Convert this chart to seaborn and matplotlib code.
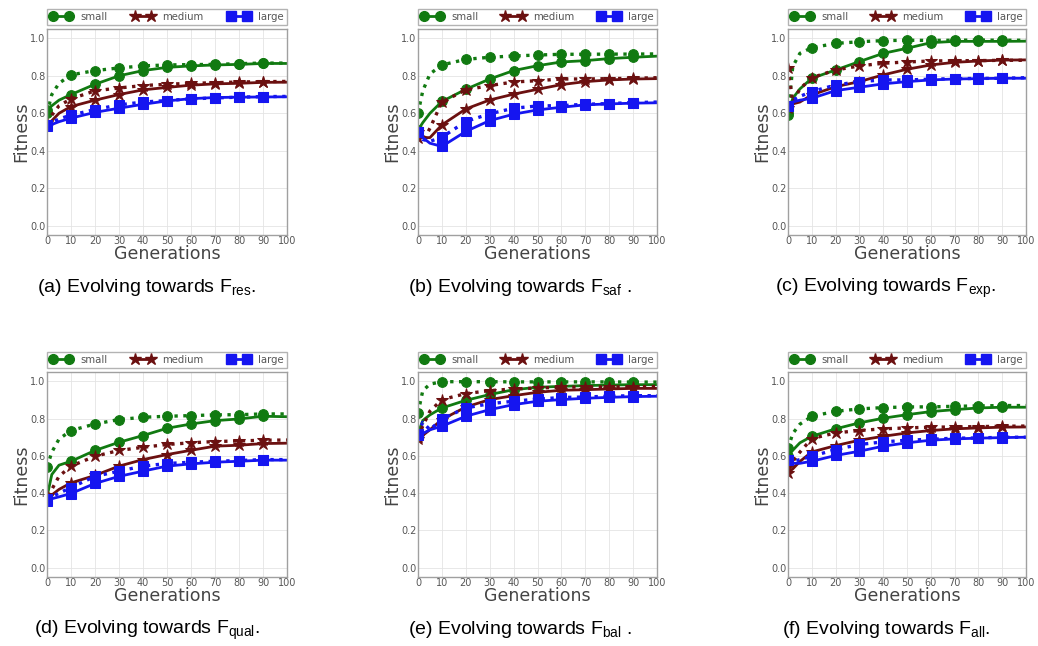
"""
Fitness vs generations for the six objective functions (a)-(f).
Solid = one run type, dotted = the other, for small / medium / large.
"""

import matplotlib
matplotlib.use("Agg")
import matplotlib.pyplot as plt
from matplotlib.lines import Line2D
import seaborn as sns

# x positions of the sampled values (generations)
GENS = [0, 2, 5, 10, 20, 30, 40, 50, 60, 70, 80, 90, 100]
MARK_AT = [0, 3, 4, 5, 6, 7, 8, 9, 10, 11]  # indices of 0,10,...,90

SIZES = ["small", "medium", "large"]
XTICKS = list(range(0, 101, 10))
YTICKS = [0.0, 0.2, 0.4, 0.6, 0.8, 1.0]

# (a) F_res
RES_SMALL = [0.62, 0.64, 0.67, 0.70, 0.755, 0.80, 0.828, 0.845, 0.853, 0.858, 0.861, 0.866, 0.866]
RES_SMALL_DOT = [0.60, 0.70, 0.76, 0.805, 0.828, 0.842, 0.853, 0.858, 0.86, 0.861, 0.865, 0.868, 0.868]
RES_MEDIUM = [0.53, 0.56, 0.60, 0.636, 0.67, 0.70, 0.725, 0.738, 0.75, 0.757, 0.76, 0.765, 0.766]
RES_MEDIUM_DOT = [0.55, 0.59, 0.64, 0.677, 0.72, 0.735, 0.748, 0.755, 0.76, 0.763, 0.767, 0.769, 0.77]
RES_LARGE = [0.53, 0.54, 0.555, 0.574, 0.605, 0.627, 0.648, 0.666, 0.678, 0.684, 0.686, 0.687, 0.688]
RES_LARGE_DOT = [0.54, 0.55, 0.57, 0.59, 0.62, 0.645, 0.66, 0.668, 0.677, 0.682, 0.686, 0.689, 0.69]

# (b) F_saf
SAF_SMALL = [0.51, 0.55, 0.60, 0.663, 0.728, 0.783, 0.828, 0.854, 0.874, 0.881, 0.892, 0.899, 0.905]
SAF_SMALL_DOT = [0.60, 0.72, 0.81, 0.858, 0.888, 0.899, 0.906, 0.911, 0.915, 0.915, 0.916, 0.916, 0.917]
SAF_MEDIUM = [0.50, 0.47, 0.47, 0.538, 0.623, 0.671, 0.702, 0.728, 0.753, 0.769, 0.778, 0.783, 0.785]
SAF_MEDIUM_DOT = [0.47, 0.45, 0.52, 0.66, 0.725, 0.748, 0.767, 0.774, 0.783, 0.783, 0.785, 0.787, 0.79]
SAF_LARGE = [0.50, 0.47, 0.44, 0.423, 0.503, 0.561, 0.595, 0.618, 0.632, 0.645, 0.65, 0.654, 0.656]
SAF_LARGE_DOT = [0.50, 0.46, 0.45, 0.472, 0.556, 0.597, 0.627, 0.639, 0.641, 0.648, 0.652, 0.657, 0.66]

# (c) F_exp
EXP_SMALL = [0.60, 0.68, 0.73, 0.787, 0.831, 0.876, 0.92, 0.947, 0.977, 0.984, 0.984, 0.984, 0.985]
EXP_SMALL_DOT = [0.59, 0.85, 0.92, 0.95, 0.973, 0.982, 0.988, 0.99, 0.989, 0.99, 0.991, 0.99, 0.99]
EXP_MEDIUM = [0.63, 0.65, 0.66, 0.698, 0.742, 0.769, 0.805, 0.835, 0.858, 0.872, 0.879, 0.884, 0.885]
EXP_MEDIUM_DOT = [0.84, 0.66, 0.73, 0.79, 0.831, 0.853, 0.867, 0.874, 0.879, 0.881, 0.881, 0.883, 0.883]
EXP_LARGE = [0.64, 0.66, 0.67, 0.68, 0.721, 0.739, 0.757, 0.769, 0.778, 0.783, 0.785, 0.787, 0.787]
EXP_LARGE_DOT = [0.64, 0.67, 0.69, 0.716, 0.751, 0.769, 0.778, 0.778, 0.782, 0.785, 0.786, 0.787, 0.79]

# (d) F_qual
QUAL_SMALL = [0.38, 0.50, 0.55, 0.571, 0.629, 0.673, 0.709, 0.748, 0.771, 0.789, 0.798, 0.8125, 0.81]
QUAL_SMALL_DOT = [0.54, 0.62, 0.69, 0.736, 0.771, 0.795, 0.807, 0.8125, 0.816, 0.82, 0.821, 0.825, 0.825]
QUAL_MEDIUM = [0.38, 0.39, 0.42, 0.455, 0.495, 0.545, 0.58, 0.607, 0.63, 0.652, 0.657, 0.666, 0.668]
QUAL_MEDIUM_DOT = [0.39, 0.42, 0.49, 0.545, 0.598, 0.629, 0.646, 0.661, 0.67, 0.677, 0.68, 0.684, 0.685]
QUAL_LARGE = [0.36, 0.37, 0.38, 0.398, 0.452, 0.49, 0.518, 0.545, 0.557, 0.566, 0.571, 0.577, 0.577]
QUAL_LARGE_DOT = [0.37, 0.38, 0.40, 0.43, 0.49, 0.518, 0.545, 0.559, 0.566, 0.571, 0.575, 0.58, 0.58]

# (e) F_bal
BAL_SMALL = [0.72, 0.79, 0.82, 0.857, 0.898, 0.929, 0.955, 0.968, 0.973, 0.977, 0.98, 0.982, 0.982]
BAL_SMALL_DOT = [0.83, 0.95, 0.985, 0.998, 0.998, 0.998, 0.997, 0.997, 0.997, 0.997, 0.997, 0.996, 0.996]
BAL_MEDIUM = [0.69, 0.71, 0.74, 0.795, 0.862, 0.902, 0.923, 0.941, 0.952, 0.955, 0.959, 0.962, 0.962]
BAL_MEDIUM_DOT = [0.70, 0.76, 0.84, 0.902, 0.934, 0.95, 0.959, 0.964, 0.968, 0.97, 0.97, 0.971, 0.972]
BAL_LARGE = [0.71, 0.72, 0.74, 0.759, 0.8125, 0.848, 0.875, 0.893, 0.902, 0.909, 0.914, 0.918, 0.92]
BAL_LARGE_DOT = [0.72, 0.78, 0.74, 0.798, 0.857, 0.88, 0.893, 0.905, 0.913, 0.916, 0.92, 0.923, 0.923]

# (f) F_all
ALL_SMALL = [0.60, 0.63, 0.67, 0.705, 0.745, 0.777, 0.802, 0.821, 0.8375, 0.848, 0.857, 0.861, 0.861]
ALL_SMALL_DOT = [0.64, 0.72, 0.77, 0.8125, 0.839, 0.852, 0.859, 0.8625, 0.863, 0.866, 0.868, 0.87, 0.87]
ALL_MEDIUM = [0.51, 0.53, 0.57, 0.621, 0.655, 0.684, 0.705, 0.723, 0.736, 0.745, 0.75, 0.754, 0.755]
ALL_MEDIUM_DOT = [0.54, 0.57, 0.62, 0.693, 0.723, 0.736, 0.745, 0.75, 0.754, 0.755, 0.757, 0.759, 0.76]
ALL_LARGE = [0.58, 0.56, 0.56, 0.571, 0.602, 0.625, 0.652, 0.67, 0.684, 0.691, 0.695, 0.698, 0.70]
ALL_LARGE_DOT = [0.58, 0.57, 0.58, 0.598, 0.634, 0.661, 0.675, 0.684, 0.689, 0.695, 0.696, 0.70, 0.70]

PANELS = [
    ("(a) Evolving towards $\\mathregular{F_{res}}$.",
     [RES_SMALL, RES_MEDIUM, RES_LARGE], [RES_SMALL_DOT, RES_MEDIUM_DOT, RES_LARGE_DOT]),
    ("(b) Evolving towards $\\mathregular{F_{saf}}$ .",
     [SAF_SMALL, SAF_MEDIUM, SAF_LARGE], [SAF_SMALL_DOT, SAF_MEDIUM_DOT, SAF_LARGE_DOT]),
    ("(c) Evolving towards $\\mathregular{F_{exp}}$.",
     [EXP_SMALL, EXP_MEDIUM, EXP_LARGE], [EXP_SMALL_DOT, EXP_MEDIUM_DOT, EXP_LARGE_DOT]),
    ("(d) Evolving towards $\\mathregular{F_{qual}}$.",
     [QUAL_SMALL, QUAL_MEDIUM, QUAL_LARGE], [QUAL_SMALL_DOT, QUAL_MEDIUM_DOT, QUAL_LARGE_DOT]),
    ("(e) Evolving towards $\\mathregular{F_{bal}}$ .",
     [BAL_SMALL, BAL_MEDIUM, BAL_LARGE], [BAL_SMALL_DOT, BAL_MEDIUM_DOT, BAL_LARGE_DOT]),
    ("(f) Evolving towards $\\mathregular{F_{all}}$.",
     [ALL_SMALL, ALL_MEDIUM, ALL_LARGE], [ALL_SMALL_DOT, ALL_MEDIUM_DOT, ALL_LARGE_DOT]),
]

COLORS = ["#117a11", "#6b1010", "#1515f0"]
MARKERS = ["o", "*", "s"]
MSIZES = [7, 9, 7]

# axes placement in pixels (left, right) per column, (top, bottom) per row
COLS_PX = [(47, 287), (418, 657), (788, 1026)]
ROWS_PX = [(29, 235), (372, 577)]
CAPTION_X = [147, 520, 886]
CAPTION_Y = [288, 630]
W, H = 1038, 646


def main():
    sns.set_style("whitegrid", {"grid.color": "#e4e4e4", "axes.edgecolor": "#a0a0a0"})
    plt.rcParams["font.family"] = ["DejaVu Sans"]
    plt.rcParams["mathtext.default"] = "regular"

    fig = plt.figure(figsize=(W / 100, H / 100), dpi=100)

    for i, (caption, solids, dots) in enumerate(PANELS):
        r, c = divmod(i, 3)
        l, rr = COLS_PX[c]
        t, b = ROWS_PX[r]
        ax = fig.add_axes([l / W, 1 - b / H, (rr - l) / W, (b - t) / H])

        for k in range(3):
            common = dict(color=COLORS[k], marker=MARKERS[k], markersize=MSIZES[k],
                          markeredgecolor=COLORS[k], markevery=MARK_AT, ax=ax)
            sns.lineplot(x=GENS, y=solids[k], linestyle="-", linewidth=2.0, **common)
            sns.lineplot(x=GENS, y=dots[k], linestyle=":", linewidth=2.4, **common)

        ax.set_xlim(0, 100)
        ax.set_ylim(-0.05, 1.05)
        ax.set_xticks(XTICKS)
        ax.set_yticks(YTICKS)
        ax.set_yticklabels([f"{v:.1f}" for v in YTICKS])
        ax.tick_params(labelsize=7, colors="#555555", pad=1, length=0)
        ax.grid(True, linewidth=0.6)
        for sp in ax.spines.values():
            sp.set_linewidth(1.0)
        ax.set_xlabel("Generations", fontsize=12.5, color="#444444", labelpad=-1)
        ax.set_ylabel("Fitness", fontsize=12.5, color="#444444", labelpad=0)

        handles = [Line2D([], [], color=COLORS[k], marker=MARKERS[k], markersize=MSIZES[k],
                          linewidth=2.0, markeredgecolor=COLORS[k]) for k in range(3)]
        leg = ax.legend(handles, SIZES, loc="lower left", bbox_to_anchor=(0, 1.02, 1, 0.1),
                        mode="expand", ncol=3, numpoints=2, fontsize=7.3, frameon=True,
                        fancybox=False, borderaxespad=0, handlelength=2.2, handletextpad=0.8,
                        borderpad=0.3, columnspacing=1.0)
        leg.get_frame().set_edgecolor("#a0a0a0")
        leg.get_frame().set_linewidth(1.0)
        for txt in leg.get_texts():
            txt.set_color("#555555")

        fig.text(CAPTION_X[c] / W, 1 - CAPTION_Y[r] / H, caption, ha="center", va="center",
                 fontsize=14, family=["Liberation Sans", "DejaVu Sans"], color="black")

    fig.savefig("out.png", dpi=100)
    plt.close(fig)


if __name__ == "__main__":
    main()
